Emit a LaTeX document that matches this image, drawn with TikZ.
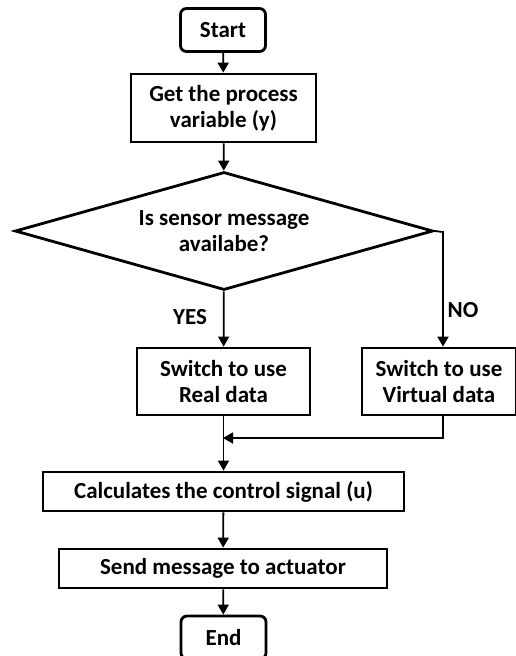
\documentclass[tikz,border=0pt]{standalone}
\usepackage{fontspec}
\setmainfont{Carlito}
\usetikzlibrary{shapes.geometric, arrows.meta}

\begin{document}
\begin{tikzpicture}[x=1pt, y=-1pt, >={Triangle[length=10pt,width=11pt]},
    font=\fontsize{23}{26}\selectfont\bfseries,
    terminal/.style={draw, line width=2.8pt, rounded corners=6pt, minimum width=85pt, minimum height=43pt, inner sep=0pt},
    process/.style={draw, line width=2.8pt, align=center, minimum height=39pt, inner sep=0pt},
    decision/.style={draw, line width=2.8pt, diamond, aspect=3.54, align=center, minimum width=418pt, minimum height=118pt, inner sep=0pt},
    flow/.style={->, line width=1.8pt}]
    \useasboundingbox (0,0) rectangle (515,656);

        \node[terminal] (start) at (223,30) {Start};
        \node[process, minimum width=185pt, minimum height=68pt] (getpv) at (223.5,108) {Get the process\\variable (y)};
        \node[decision] (check) at (224,231) {Is sensor message\\availabe?};
        \node[process, minimum width=173pt, minimum height=67pt] (real) at (223.5,381.5) {Switch to use\\Real data};
        \node[process, minimum width=154pt, minimum height=67pt] (virt) at (439,381.5) {Switch to use\\Virtual data};
        \node[process, minimum width=361pt] (calc) at (223.5,491.5) {Calculates the control signal (u)};
        \node[process, minimum width=328pt] (send) at (223,568.5) {Send message to actuator};
        \node[terminal] (end) at (223.5,637.5) {End};

        \node (yes) at (190,317) {YES};
        \node (no) at (463,310) {NO};
        \coordinate (noturn) at (443,232);
        \coordinate (merge) at (223,438);

        % main line
        \draw[flow] (start) -- (getpv);
        \draw[flow] (getpv) -- (check);
        \draw[flow] (check) -- (real);
        \draw[flow] (real) -- (calc);
        \draw[flow] (calc) -- (send);
        \draw[flow] (send) -- (end);

        % NO branch
        \draw[flow] (check.east) -- (noturn) -- (noturn |- virt.north);
        \draw[flow] (noturn |- virt.south) |- (merge);
\end{tikzpicture}
\end{document}
